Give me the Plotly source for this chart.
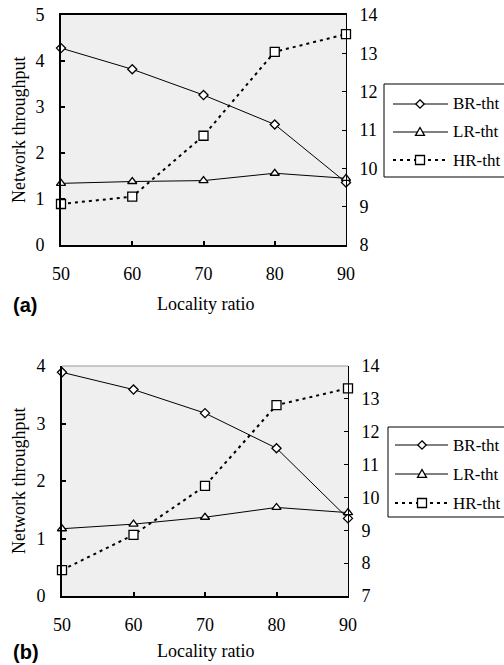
import plotly.graph_objects as go

# ---------------- data ----------------
locality = [50, 60, 70, 80, 90]

br_a = [4.28, 3.82, 3.26, 2.62, 1.36]
lr_a = [1.34, 1.38, 1.40, 1.56, 1.45]
hr_a = [9.07, 9.26, 10.85, 13.04, 13.50]   # right axis

br_b = [3.89, 3.59, 3.18, 2.57, 1.35]
lr_b = [1.17, 1.25, 1.37, 1.54, 1.45]
hr_b = [7.79, 8.86, 10.35, 12.81, 13.32]   # right axis

series_names = ["BR-tht", "LR-tht", "HR-tht"]
x_title = "Locality ratio"
y_title = "Network throughput"

W, H = 504, 665
SERIF = "Liberation Serif, Times New Roman, serif"
SANS = "Liberation Sans, Arial, sans-serif"
BG = "#efefef"


def px(x):
    return x / W


def py(y):
    return 1 - y / H


fig = go.Figure()

mk_common = dict(color="white", line=dict(color="black", width=1.3))


def add_panel(br, lr, hr, xa, ya, ya2):
    fig.add_trace(go.Scatter(x=locality, y=br, name=series_names[0], mode="lines+markers",
                             line=dict(color="black", width=1),
                             marker=dict(symbol="diamond", size=7, **mk_common),
                             xaxis=xa, yaxis=ya, cliponaxis=False, showlegend=False))
    fig.add_trace(go.Scatter(x=locality, y=lr, name=series_names[1], mode="lines+markers",
                             line=dict(color="black", width=1),
                             marker=dict(symbol="triangle-up", size=8, **mk_common),
                             xaxis=xa, yaxis=ya, cliponaxis=False, showlegend=False))
    fig.add_trace(go.Scatter(x=locality, y=hr, name=series_names[2], mode="lines+markers",
                             line=dict(color="black", width=2, dash="3px,4px"),
                             marker=dict(symbol="square", size=9, **mk_common),
                             xaxis=xa, yaxis=ya2, cliponaxis=False, showlegend=False))


add_panel(br_a, lr_a, hr_a, "x", "y", "y2")
add_panel(br_b, lr_b, hr_b, "x2", "y3", "y4")

tickfont = dict(family=SERIF, size=18, color="black")

xcommon = dict(range=[50, 90], tickvals=locality, ticks="inside", ticklen=4, tickwidth=2,
               tickcolor="black", showline=True, linecolor="black", linewidth=2,
               showgrid=False, zeroline=False, tickfont=tickfont, ticklabelstandoff=11,
               automargin=False)
ycommon = dict(ticks="inside", ticklen=4, tickwidth=2, tickcolor="black", showline=True,
               linecolor="black", linewidth=2, showgrid=False, zeroline=False,
               tickfont=tickfont, ticklabelstandoff=11, automargin=False)
y2common = dict(ticks="inside", ticklen=4, tickwidth=1, tickcolor="black", showline=True,
                linecolor="black", linewidth=1, showgrid=False, zeroline=False,
                tickfont=tickfont, ticklabelstandoff=9, side="right", automargin=False)

dom_a_x = [px(61), px(346)]
dom_a_y = [py(245), py(15)]
dom_b_x = [px(62), px(348)]
dom_b_y = [py(596), py(366)]

fig.update_layout(
    width=W, height=H,
    margin=dict(l=0, r=0, t=0, b=0, pad=0, autoexpand=False),
    paper_bgcolor="white",
    plot_bgcolor=BG,
    showlegend=False,
    xaxis=dict(domain=dom_a_x, anchor="y", mirror=True, **xcommon),
    yaxis=dict(domain=dom_a_y, anchor="x", range=[0, 5], dtick=1, **ycommon),
    yaxis2=dict(y2common, anchor="x", overlaying="y", range=[8, 14], dtick=1),
    xaxis2=dict(domain=dom_b_x, anchor="y3", **xcommon),
    yaxis3=dict(domain=dom_b_y, anchor="x2", range=[0, 4], dtick=1, **ycommon),
    yaxis4=dict(y2common, anchor="x2", overlaying="y3", range=[7, 14], dtick=1),
)

shapes = []
annotations = []

# top border of panel (b): thin gray
shapes.append(dict(type="line", xref="paper", yref="paper", x0=dom_b_x[0], x1=dom_b_x[1],
                   y0=dom_b_y[1], y1=dom_b_y[1], line=dict(color="#9a9a9a", width=1)))

# axis titles & panel labels
for (yc, xlab_y, lab) in [(130, 304, "(a)"), (481, 651, "(b)")]:
    annotations.append(dict(text=y_title, x=px(19), y=py(yc), xref="paper", yref="paper",
                            textangle=-90, showarrow=False, xanchor="center", yanchor="middle",
                            font=dict(family=SERIF, size=18, color="black")))
    annotations.append(dict(text=x_title, x=px(205), y=py(xlab_y), xref="paper", yref="paper",
                            showarrow=False, xanchor="center", yanchor="middle",
                            font=dict(family=SERIF, size=18, color="black")))
    annotations.append(dict(text="<b>" + lab + "</b>", x=px(11), y=py(xlab_y + 1), xref="paper",
                            yref="paper", showarrow=False, xanchor="left", yanchor="middle",
                            font=dict(family=SANS, size=20, color="black")))


# manual legends
def diamond(cx, cy, r):
    return (f"M{px(cx)},{py(cy - r)} L{px(cx + r)},{py(cy)} L{px(cx)},{py(cy + r)} "
            f"L{px(cx - r)},{py(cy)} Z")


def triangle(cx, cy, r):
    return (f"M{px(cx)},{py(cy - r)} L{px(cx + r)},{py(cy + r * 0.75)} "
            f"L{px(cx - r)},{py(cy + r * 0.75)} Z")


def square(cx, cy, r):
    return (f"M{px(cx - r)},{py(cy - r)} L{px(cx + r)},{py(cy - r)} L{px(cx + r)},{py(cy + r)} "
            f"L{px(cx - r)},{py(cy + r)} Z")


def add_legend(x0, y0, y1, rows, lx0, lx1, mx, tx):
    shapes.append(dict(type="rect", xref="paper", yref="paper", x0=px(x0), x1=px(W + 20),
                       y0=py(y1), y1=py(y0), line=dict(color="black", width=1),
                       fillcolor="white", layer="above"))
    glyphs = [diamond, triangle, square]
    sizes = [4.2, 4.5, 4.5]
    for i, ry in enumerate(rows):
        if i < 2:
            shapes.append(dict(type="line", xref="paper", yref="paper", x0=px(lx0), x1=px(lx1),
                               y0=py(ry), y1=py(ry), line=dict(color="black", width=1),
                               layer="above"))
        else:
            shapes.append(dict(type="line", xref="paper", yref="paper", x0=px(lx0), x1=px(lx1),
                               y0=py(ry), y1=py(ry),
                               line=dict(color="black", width=2, dash="3px,4px"),
                               layer="above"))
        shapes.append(dict(type="path", xref="paper", yref="paper", path=glyphs[i](mx, ry, sizes[i]),
                           fillcolor="white", line=dict(color="black", width=1.3), layer="above"))
        annotations.append(dict(text=series_names[i], x=px(tx), y=py(ry), xref="paper",
                                yref="paper", showarrow=False, xanchor="left", yanchor="middle",
                                font=dict(family=SERIF, size=17, color="black")))


add_legend(384, 84, 177, [104, 132, 160], 393, 448, 420, 451)
add_legend(388, 427, 517, [445, 474, 503], 395, 448, 422, 451)

fig.update_layout(shapes=shapes, annotations=annotations)

fig.write_html("out.html", config={"displayModeBar": False},
               post_script="document.body.style.margin='0px';")
